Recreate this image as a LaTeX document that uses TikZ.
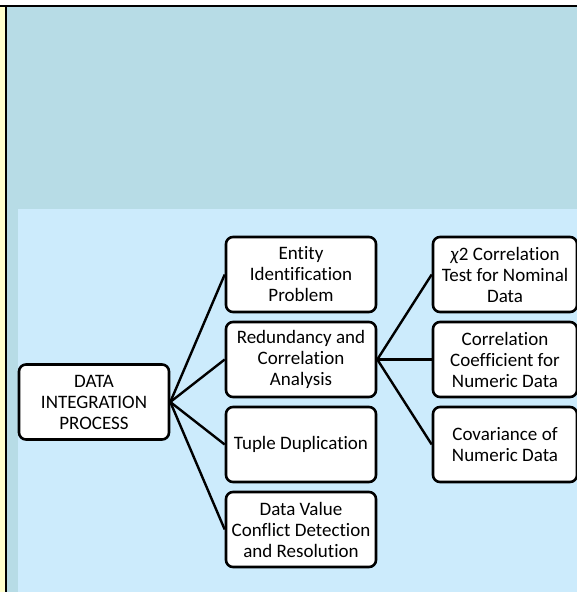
\documentclass[tikz,border=0pt]{standalone}
\usepackage{fontspec}
\setmainfont{Carlito}[Ligatures=NoCommon]
\definecolor{outerbg}{HTML}{B7DCE6}
\definecolor{innerbg}{HTML}{CCEBFC}
\definecolor{stripyellow}{HTML}{FFFFCC}
\begin{document}
\begin{tikzpicture}[x=1pt,y=-1pt,
  box/.style={draw=black,line width=2.6pt,rounded corners=7pt,fill=white,align=center,
    minimum width=150pt,minimum height=75pt,inner sep=2pt,font=\fontsize{19}{21}\selectfont},
  rbox/.style={box,minimum width=144pt},
  conn/.style={draw=black,line width=2.4pt}]
\useasboundingbox (0,0) rectangle (577,592);
\fill[white] (0,0) rectangle (577,592);
\fill[outerbg] (6,6) rectangle (577,592);
\fill[stripyellow] (0,7) rectangle (5,592);
\fill[innerbg] (18,209) rectangle (577,592);
\draw[black,line width=2pt] (0,6) -- (577,6);
\draw[black,line width=1.5pt] (6,6) -- (6,592);
\node[box] (data) at (94,402) {DATA\\INTEGRATION\\PROCESS};
\node[box] (entity) at (301,274.5) {Entity\\Identification\\Problem};
\node[box] (redund) at (301,359.5) {Redundancy and\\Correlation\\Analysis};
\node[box] (tuple) at (301,444.5) {Tuple Duplication};
\node[box] (dvc) at (301,529.5) {Data Value\\Conflict Detection\\and Resolution};
\node[rbox] (chi) at (505,274.5) {\textit{χ}2 Correlation\\Test for Nominal\\Data};
\node[rbox] (coef) at (505,359.5) {Correlation\\Coefficient for\\Numeric Data};
\node[rbox] (cov) at (505,444.5) {Covariance of\\Numeric Data};
\draw[conn] (data.east) -- (entity.west);
\draw[conn] (data.east) -- (redund.west);
\draw[conn] (data.east) -- (tuple.west);
\draw[conn] (data.east) -- (dvc.west);
\draw[conn] (redund.east) -- (chi.west);
\draw[conn] (redund.east) -- (coef.west);
\draw[conn] (redund.east) -- (cov.west);
\end{tikzpicture}
\end{document}
